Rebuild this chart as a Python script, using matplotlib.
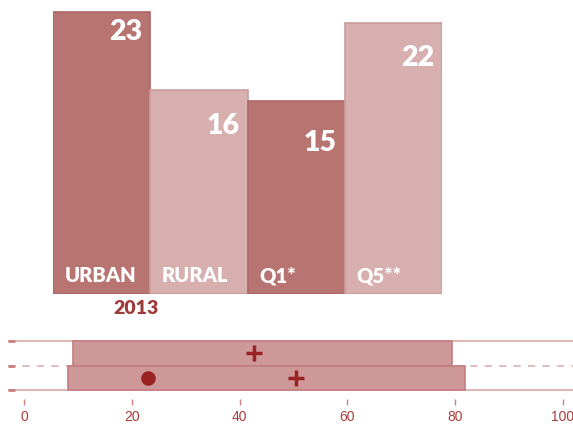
import matplotlib
matplotlib.use("Agg")
import matplotlib.pyplot as plt
from matplotlib.patches import Rectangle

# ---- data ----
categories = ["URBAN", "RURAL", "Q1*", "Q5**"]
values = [23, 16, 15, 22]
value_labels = ["23", "16", "15", "22"]
year_label = "2013"

# bottom box panel
box_starts = [9.1, 8.2]
box_ends = [79.4, 81.8]
plus_values = [42.7, 50.5]
dot_value = 23.0
xticks = [0, 20, 40, 60, 80, 100]

# ---- style ----
DARK = "#B87471"
LIGHT = "#D7AFAF"
DARK_EDGE = "#AE6764"
LIGHT_EDGE = "#CC9D9D"
bar_colors = [DARK, LIGHT, DARK, LIGHT]
edge_colors = [DARK_EDGE, LIGHT_EDGE, DARK_EDGE, LIGHT_EDGE]
label_offsets = [1.8, 3.2, 3.75, 3.1]

W, H = 573, 426
fig = plt.figure(figsize=(W / 100, H / 100), dpi=100)
FONT = ["Lato", "DejaVu Sans"]

# ---- bar chart ----
ax = fig.add_axes([53 / W, (H - 294) / H, 389 / W, 294 / H])
base = -2.3
xs = list(range(len(values)))
ax.bar(xs, [v - base for v in values], bottom=base, width=1.0,
       color=bar_colors, edgecolor=edge_colors, linewidth=1.2)
ax.set_xlim(-0.5, 3.5)
ax.set_ylim(base, base + 294 / 11.14)
ax.axis("off")
for x, v, lab, off in zip(xs, values, value_labels, label_offsets):
    ax.text(x + 0.42, v - off, lab, ha="right", va="center", color="white",
            fontsize=20.5, fontweight="heavy", family=FONT)
for x, c in zip(xs, categories):
    ax.text(x - 0.38, base + 1.65, c, ha="left", va="center", color="white",
            fontsize=14.5, fontweight="heavy", family=FONT)
ax.text(0.35, base - 1.3, year_label, ha="center", va="center", color="#9E3A3A",
        fontsize=14, fontweight="heavy", family=FONT, clip_on=False)

# ---- box panel ----
bx = fig.add_axes([8 / W, (H - 399) / H, 565 / W, 63 / H])
bx.set_xlim((8 - 24) / 5.3875, (573 - 24) / 5.3875)
bx.set_ylim(2 + 9 / 24.5, -5 / 24.5)
LINE = "#DDB8B8"
bx.axhline(0, color=LINE, lw=1.5, zorder=1)
bx.axhline(1, color=LINE, lw=1.3, ls=(0, (4, 4)), zorder=1)
bx.axhline(2, color=LINE, lw=1.5, zorder=1)
for i, (s, e) in enumerate(zip(box_starts, box_ends)):
    bx.add_patch(Rectangle((s, i), e - s, 1, facecolor="#CE9899",
                           edgecolor="#C27E80", lw=1.2, zorder=2))
    bx.plot([plus_values[i]], [i + 0.5], marker="+", ms=12, mew=2.5,
            color="#9B2222", zorder=3)
bx.plot([dot_value], [1.5], marker="o", ms=9.5, color="#9B2222",
        mec="#9B2222", zorder=3)
for s in bx.spines.values():
    s.set_visible(False)
bx.set_yticks([0, 1, 2])
bx.set_yticklabels([])
bx.tick_params(axis="y", direction="in", length=5, width=2, color="#C88080", pad=0)
bx.set_xticks(xticks)
bx.set_xticklabels([str(t) for t in xticks], family=["Liberation Sans"],
                   fontsize=10, color="#A83C3C")
bx.tick_params(axis="x", direction="out", length=4, width=1, color="#C88080", pad=4)

fig.savefig("out.png", dpi=100)
